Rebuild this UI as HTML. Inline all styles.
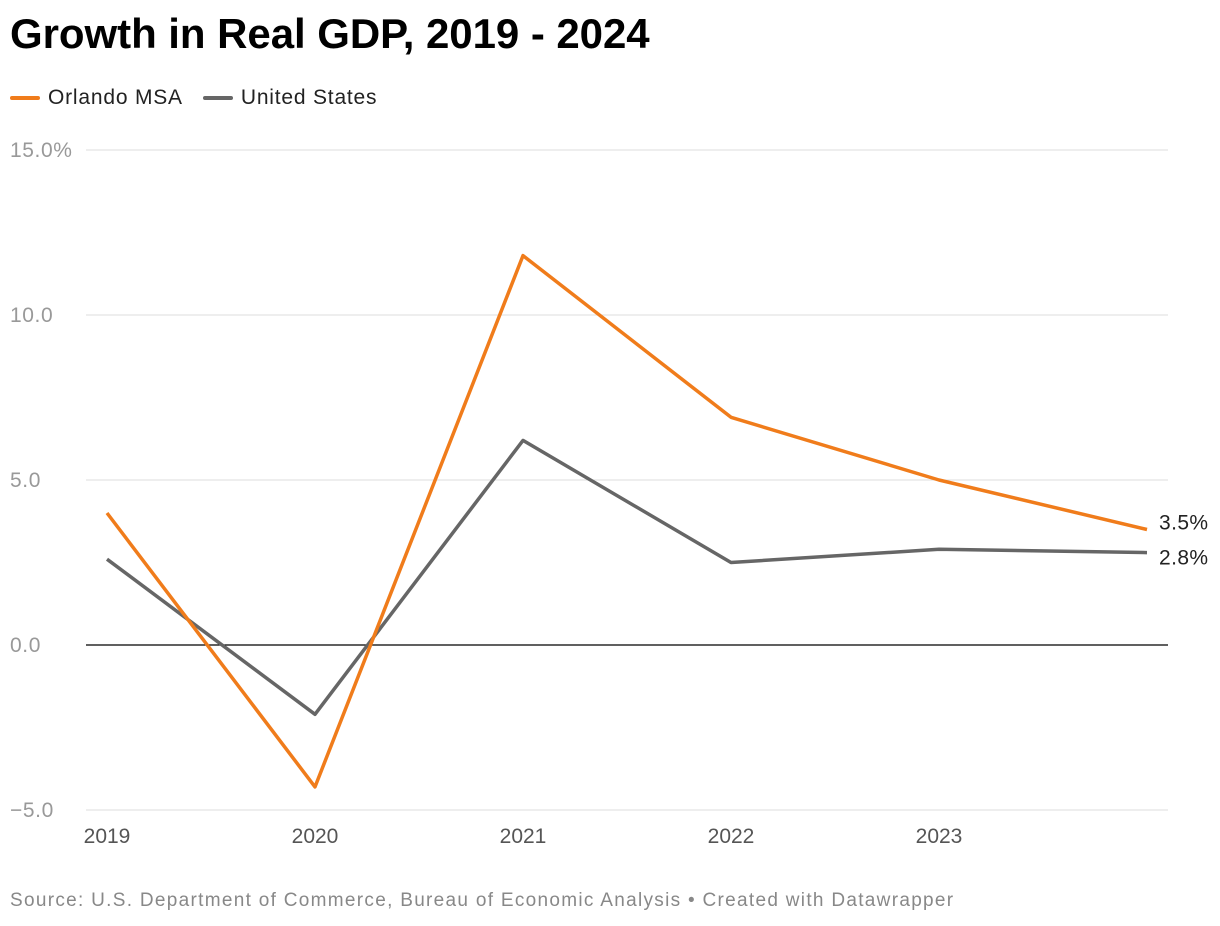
<!DOCTYPE html>
<html><head><meta charset="utf-8"><style>
body{margin:0;background:#fff;width:1220px;height:926px;overflow:hidden;font-family:"Liberation Sans",sans-serif}
h1{position:absolute;left:10px;top:10px;margin:0;font-size:42px;font-weight:bold;color:#000;letter-spacing:-0.05px}
.legend{position:absolute;left:10px;top:86px;font-size:21px;color:#222;display:flex;gap:20px;letter-spacing:0.8px}
.legend span{display:inline-flex;align-items:center}
.legend i{display:inline-block;width:30px;height:4px;margin-right:8px;border-radius:2px}
.src{position:absolute;left:10px;top:890px;font-size:19px;color:#888;letter-spacing:1.3px}
</style></head><body>
<h1>Growth in Real GDP, 2019 - 2024</h1>
<div class="legend">
<span><i style="background:#f07c1b"></i>Orlando MSA</span>
<span><i style="background:#666"></i>United States</span>
</div>
<svg id="chart" width="1220" height="926" style="position:absolute;left:0;top:0"></svg>
<div class="src">Source: U.S. Department of Commerce, Bureau of Economic Analysis • Created with Datawrapper</div>
<script>
const years=["2019","2020","2021","2022","2023","2024"];
const xTickLabels=["2019","2020","2021","2022","2023"];
const orlando=[4.0,-4.3,11.8,6.9,5.0,3.5];
const us=[2.6,-2.1,6.2,2.5,2.9,2.8];
const yTicks=[15,10,5,0,-5];
const yTickLabels=["15.0%","10.0","5.0","0.0","\u22125.0"];
const svg=document.getElementById('chart');
const NS='http://www.w3.org/2000/svg';
const x=i=>107+i*208;
const y=v=>645-v*33;
function mk(t,a){const e=document.createElementNS(NS,t);for(const k in a)e.setAttribute(k,a[k]);svg.appendChild(e);return e;}
yTicks.forEach((v,i)=>{
 const l=mk('line',{x1:86,x2:1168,y1:y(v),y2:y(v),stroke:v===0?'#000':'#ddd','stroke-width':v===0?1.3:1});
 
 
 const t=mk('text',{x:10,y:y(v)+7,'font-size':21,fill:'#999','letter-spacing':0.6,'font-family':'Liberation Sans, sans-serif'});
 t.textContent=yTickLabels[i];
 
 
});
xTickLabels.forEach((s,i)=>{
 const t=mk('text',{x:x(i),y:843,'font-size':21,fill:'#555','text-anchor':'middle','font-family':'Liberation Sans, sans-serif'});
 t.textContent=s;
 
 
});
function series(d,c,name,dy){
 const p=mk('polyline',{points:d.map((v,i)=>x(i)+','+y(v)).join(' '),fill:'none',stroke:c,'stroke-width':3.5,'stroke-linejoin':'round'});
 
 
 const n=d.length-1;
 const t=mk('text',{x:x(n)+12,y:y(d[n])+dy,'font-size':21,fill:'#222','letter-spacing':0.4,'font-family':'Liberation Sans, sans-serif'});
 t.textContent=d[n].toFixed(1)+'%';
 
 
}
series(us,'#666','us',12);
series(orlando,'#f07c1b','orlando',0);
</script>
</body></html>
